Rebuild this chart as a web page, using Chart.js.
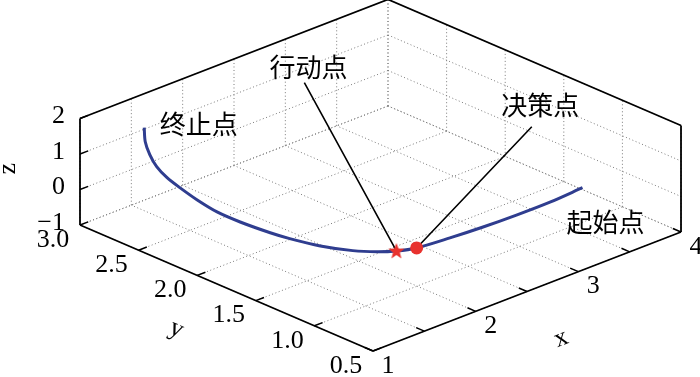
<!DOCTYPE html>
<html><head><meta charset="utf-8">
<script src="https://cdn.jsdelivr.net/npm/chart.js@4/dist/chart.umd.min.js"></script>
<style>html,body{margin:0;padding:0;background:#fff;}canvas{display:block}</style>
</head><body>
<canvas id="c" width="700" height="377"></canvas>
<script>
// ---------- data ----------
const xTicks = [1, 1.5, 2, 2.5, 3, 3.5, 4];
const xTickLabels = ['1', '', '2', '', '3', '', '4'];
const yTicks = [0.5, 1.0, 1.5, 2.0, 2.5, 3.0];
const yTickLabels = ['0.5', '1.0', '1.5', '2.0', '2.5', '3.0'];
const zTicks = [-1, 0, 1, 2];
const zTickLabels = ['\u22121', '0', '1', '2'];

// trajectory, from start point (起始点) to end point (终止点)
const pathX = [3.60, 3.26, 2.94, 2.62, 2.32, 2.03, 1.89, 1.78, 1.67, 1.56, 1.49, 1.46, 1.43, 1.41, 1.40, 1.39, 1.38, 1.37, 1.36, 1.35, 1.34];
const pathY = [0.99, 0.97, 0.97, 0.98, 1.00, 1.03, 1.08, 1.15, 1.26, 1.44, 1.64, 1.78, 2.01, 2.19, 2.35, 2.49, 2.59, 2.67, 2.72, 2.75, 2.75];
const pathZ = [0, 0, 0, 0, 0, 0, 0, 0, 0, 0, 0, 0, 0.01, 0.06, 0.18, 0.34, 0.49, 0.70, 0.98, 1.31, 1.72];

const decisionPoint = [2.03, 1.03, 0];   // 决策点 (circle)
const actionPoint = [1.89, 1.08, 0];     // 行动点 (star)

const annoNames = ['终止点', '行动点', '决策点', '起始点'];
const annoTextPos = [[1.54, 2.46, 2], [2.78, 2.61, 2], [3.52, 1.28, 2], [3.31, 0.54, 0]];
const leaderTop = { action: [2.58, 2.47, 2], decision: [3.22, 1.09, 2] };

// ---------- projection (orthographic 3D view onto the hidden 2D scales) ----------
const X0 = 1, Y0 = 0.5, Z0 = -1, X1 = 4, Y1 = 3, Z1 = 2;
const ORG = [373, 351];
const EX = [102.67, -39.67], EY = [-117.2, -50.4], EZ = [0, -35.5];
function P(x, y, z) {
  const a = x - X0, b = y - Y0, c = z - Z0;
  return { x: ORG[0] + a * EX[0] + b * EY[0] + c * EZ[0], y: ORG[1] + a * EX[1] + b * EY[1] + c * EZ[1] };
}
const GAP = { x: null, y: null };
function seg(list, a, b) { list.push(P(a[0], a[1], a[2]), P(b[0], b[1], b[2]), GAP); }

// grid
const grid = [];
xTicks.forEach(x => { seg(grid, [x, Y0, Z0], [x, Y1, Z0]); seg(grid, [x, Y1, Z0], [x, Y1, Z1]); });
yTicks.forEach(y => { seg(grid, [X0, y, Z0], [X1, y, Z0]); seg(grid, [X1, y, Z0], [X1, y, Z1]); });
zTicks.forEach(z => { seg(grid, [X0, Y1, z], [X1, Y1, z]); seg(grid, [X1, Y1, z], [X1, Y0, z]); });

// box edges / axes
const box = [];
seg(box, [X0, Y1, Z0], [X0, Y1, Z1]);
seg(box, [X0, Y1, Z1], [X1, Y1, Z1]);
seg(box, [X1, Y1, Z1], [X1, Y0, Z1]);
seg(box, [X1, Y0, Z1], [X1, Y0, Z0]);
seg(box, [X0, Y1, Z0], [X0, Y0, Z0]);
seg(box, [X0, Y0, Z0], [X1, Y0, Z0]);

// tick marks
const tks = [];
xTicks.forEach(x => seg(tks, [x, Y0, Z0], [x, Y0 + 0.07, Z0]));
yTicks.forEach(y => seg(tks, [X0, y, Z0], [X0 + 0.08, y, Z0]));
zTicks.forEach(z => seg(tks, [X0, Y1, z], [X0 + 0.08, Y1, z]));

const curve = pathX.map((x, i) => P(x, pathY[i], pathZ[i]));
const leaders = [];
seg(leaders, actionPoint, leaderTop.action);
seg(leaders, decisionPoint, leaderTop.decision);

// star marker image
const starImg = document.createElement('canvas');
starImg.width = 18; starImg.height = 18;
(function () {
  const g = starImg.getContext('2d');
  g.beginPath();
  for (let i = 0; i < 10; i++) {
    const r = i % 2 === 0 ? 8.5 : 3.6;
    const ang = -Math.PI / 2 + i * Math.PI / 5;
    const px = 9 + r * Math.cos(ang), py = 9.5 + r * Math.sin(ang);
    i === 0 ? g.moveTo(px, py) : g.lineTo(px, py);
  }
  g.closePath();
  g.fillStyle = '#e8322e';
  g.fill();
})();

const SERIF = '"Liberation Serif", "Times New Roman", serif';
const CJK = '"Noto Sans CJK SC", sans-serif';

const textPlugin = {
  id: 'texts',
  afterDatasetsDraw(chart) {
    const ctx = chart.ctx, sx = chart.scales.x, sy = chart.scales.y;
    const pix = p => [sx.getPixelForValue(p.x), sy.getPixelForValue(p.y)];
    ctx.save();
    ctx.fillStyle = '#000';
    ctx.font = '26px ' + SERIF;
    ctx.textAlign = 'center'; ctx.textBaseline = 'middle';
    xTicks.forEach((x, i) => {
      if (!xTickLabels[i]) return;
      const [a, b] = pix(P(x, Y0, Z0));
      ctx.fillText(xTickLabels[i], a + 15, b + 15);
    });
    yTicks.forEach((y, i) => {
      const [a, b] = pix(P(X0, y, Z0));
      ctx.fillText(yTickLabels[i], a - 27, b + 15);
    });
    ctx.textAlign = 'right';
    zTicks.forEach((z, i) => {
      const [a, b] = pix(P(X0, Y1, z));
      ctx.fillText(zTickLabels[i], a - 15, b - 2);
    });
    // axis titles
    const title = (t, p, dx, dy, rot) => {
      const [a, b] = pix(p);
      ctx.save(); ctx.translate(a + dx, b + dy); ctx.rotate(rot);
      ctx.textAlign = 'center'; ctx.textBaseline = 'middle';
      ctx.fillText(t, 0, 0); ctx.restore();
    };
    title('x', P((X0 + X1) / 2, Y0, Z0), 34, 47, Math.atan2(EX[1], EX[0]));
    title('y', P(X0, (Y0 + Y1) / 2, Z0), -50, 41, Math.atan2(-EY[1], -EY[0]));
    title('z', P(X0, Y1, (Z0 + Z1) / 2), -72, -3, -Math.PI / 2);
    // annotations
    ctx.font = '26px ' + CJK;
    ctx.textAlign = 'center'; ctx.textBaseline = 'middle';
    annoNames.forEach((t, i) => {
      const q = annoTextPos[i];
      const [a, b] = pix(P(q[0], q[1], q[2]));
      ctx.fillText(t, a, b);
    });
    ctx.restore();
  }
};

const lineDs = (data, color, width, order, extra) => Object.assign({
  data, borderColor: color, borderWidth: width, pointRadius: 0, showLine: true,
  spanGaps: false, fill: false, clip: false, order, tension: 0
}, extra || {});

new Chart(document.getElementById('c'), {
  type: 'scatter',
  data: {
    datasets: [
      lineDs(grid, '#7a7a7a', 1, 10, { borderDash: [1, 2.5] }),
      lineDs(box, '#000', 1.8, 8),
      lineDs(tks, '#000', 1.5, 7),
      lineDs(curve, '#2f3d8f', 3, 5, { tension: 0.3 }),
      lineDs(leaders, '#000', 1.6, 4),
      { data: [P(...decisionPoint)], pointStyle: 'circle', pointRadius: 6.5, backgroundColor: '#e8322e', borderColor: '#e8322e', borderWidth: 0, showLine: false, clip: false, order: 2 },
      { data: [P(...actionPoint)], pointStyle: starImg, pointRadius: 9, showLine: false, clip: false, order: 1 }
    ]
  },
  options: {
    responsive: false, animation: false, devicePixelRatio: 1,
    layout: { padding: 0, autoPadding: false },
    plugins: { legend: { display: false }, tooltip: { enabled: false } },
    events: [],
    scales: {
      x: { type: 'linear', min: 0, max: 700, display: false },
      y: { type: 'linear', min: 0, max: 377, reverse: true, display: false }
    }
  },
  plugins: [textPlugin]
});
</script>
</body></html>
